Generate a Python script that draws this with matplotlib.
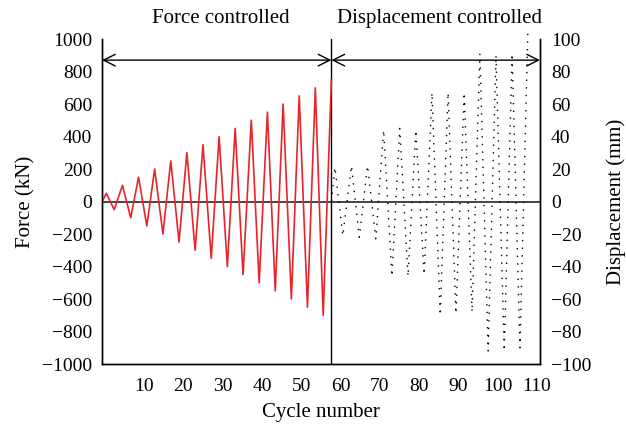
import numpy as np
import matplotlib
matplotlib.use('Agg')
import matplotlib.pyplot as plt

plt.rcParams['font.family'] = ['Liberation Serif', 'DejaVu Serif']

# force controlled part (left axis, kN)
force_x = [-0.7, 0.4, 2.4, 4.5, 6.6, 8.6, 10.7, 12.7, 14.8, 16.8, 18.9, 20.9, 23.0,
           25.0, 27.1, 29.1, 31.2, 33.2, 35.2, 37.3, 39.3, 41.4, 43.4, 45.4, 47.5,
           49.5, 51.6, 53.6, 55.6, 57.7]
force_y = [0, 50, -50, 100, -100, 150, -150, 200, -200, 250, -250, 300, -300,
           350, -350, 400, -400, 450, -450, 500, -500, 550, -550, 600, -600,
           650, -650, 700, -700, 750]

# displacement controlled part (right axis, mm)
disp_x = [57.7, 58.6, 60.6, 62.8, 64.8, 66.9, 69.0, 71.0, 73.1, 75.1, 77.2, 79.2,
          81.3, 83.3, 85.4, 87.4, 89.4, 91.5, 93.5, 95.5, 97.6, 99.6, 101.7, 103.7,
          105.7, 107.7]
disp_y = [0, 21, -21, 22, -22, 22, -23, 44, -46, 45, -46, 44, -45,
          67, -70, 67, -69, 67, -68, 91, -92, 90, -92, 91, -90, 104]

switch_x = 57.7
xmin, xmax = -0.7, 110.8

fig = plt.figure(figsize=(6.26, 4.25), dpi=100)
ax = fig.add_axes([0.163, 0.1435, 0.6996, 0.7647])
ax2 = ax.twinx()

ax.plot(force_x, force_y, color='#e8232b', lw=1.2, zorder=3)
ax.axhline(0, color='#444444', lw=1.4, zorder=2)
ax.axvline(switch_x, color='black', lw=1.0, zorder=2)

ax2.plot(disp_x, disp_y, color='black', lw=1.0, linestyle=(0, (1, 4.5)),
         clip_on=False, zorder=3)

# arrows for the two phases
arr = dict(arrowstyle='<->,head_length=0.7,head_width=0.35', color='black',
           lw=1.0, mutation_scale=12, shrinkA=0, shrinkB=0)
ax.annotate('', xy=(xmin, 870), xytext=(switch_x, 870), arrowprops=arr)
ax.annotate('', xy=(switch_x, 870), xytext=(xmax, 870), arrowprops=arr)
ax.text(29.6, 1125, 'Force controlled', ha='center', va='center', fontsize=15, clip_on=False)
ax.text(85.3, 1125, 'Displacement controlled', ha='center', va='center', fontsize=15, clip_on=False)

ax.set_xlim(xmin, xmax)
ax.set_ylim(-1000, 1000)
ax2.set_ylim(-100, 100)
ax.set_xticks(np.arange(10, 111, 10))
ax.set_yticks(np.arange(-1000, 1001, 200))
ax2.set_yticks(np.arange(-100, 101, 20))

ax.tick_params(axis='y', length=0, labelsize=14, pad=7)
ax.tick_params(axis='x', length=0, labelsize=14, pad=10)
ax2.tick_params(length=0, labelsize=14, pad=8)
for a in (ax, ax2):
    a.spines['top'].set_visible(False)
    for s in a.spines.values():
        s.set_linewidth(1.0)

ax.set_xlabel('Cycle number', fontsize=15, labelpad=6)
ax.set_ylabel('Force (kN)', fontsize=15, labelpad=5)
ax2.set_ylabel('Displacement (mm)', fontsize=15, labelpad=11)

fig.savefig('out.png', dpi=100)
